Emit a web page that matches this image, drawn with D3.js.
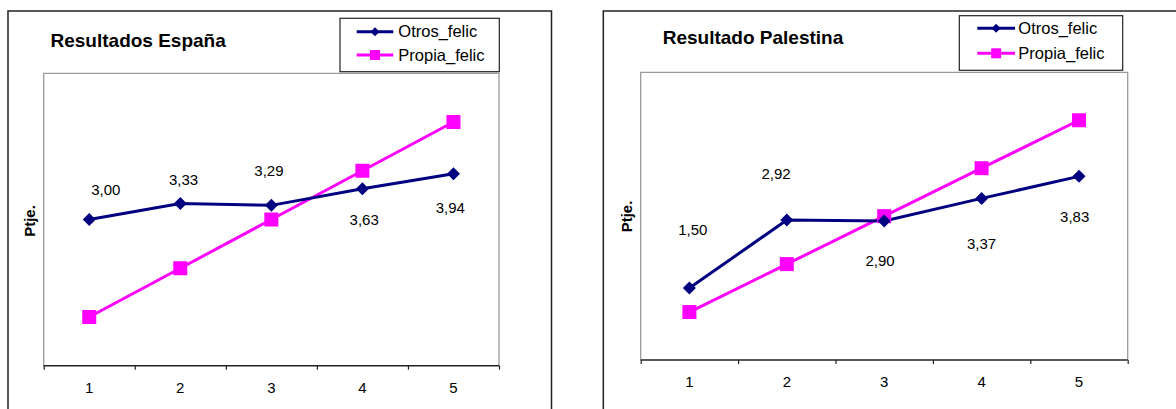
<!DOCTYPE html>
<html>
<head>
<meta charset="utf-8">
<script src="https://cdn.jsdelivr.net/npm/d3@7"></script>
<style>
  html, body { margin: 0; padding: 0; background: #fff; }
  svg { display: block; }
  text { font-family: "Liberation Sans", Arial, sans-serif; }
</style>
</head>
<body>
<svg id="chart" width="1176" height="409"></svg>
<script>
// ---- Data ----
const categories = ["1", "2", "3", "4", "5"];
const seriesNames = ["Otros_felic", "Propia_felic"];
const espanaOtros = [3.00, 3.33, 3.29, 3.63, 3.94];
const espanaPropia = [1, 2, 3, 4, 5];
const palestinaOtros = [1.50, 2.92, 2.90, 3.37, 3.83];
const palestinaPropia = [1, 2, 3, 4, 5];
const yDomain = [0, 6];
const titles = ["Resultados España", "Resultado Palestina"];
const yLabel = "Ptje.";

// ---- Layout / styles ----
const colors = { otros: "#000080", propia: "#FF00FF" };
const svg = d3.select("#chart");
svg.append("rect").attr("width", 1176).attr("height", 409).attr("fill", "#fff");

const fmt = v => d3.format(".2f")(v).replace(".", ",");

function drawChart(cfg) {
  const g = svg.append("g");
  // outer chart border (no bottom; extends beyond image)
  g.append("path")
    .attr("d", `M${cfg.outer.x0},420 L${cfg.outer.x0},${cfg.outer.y0} L${cfg.outer.x1},${cfg.outer.y0} L${cfg.outer.x1},420`)
    .attr("fill", "none").attr("stroke", "#222").attr("stroke-width", 1.5);

  const p = cfg.plot;
  const x = d3.scaleBand().domain(categories).range([p.x0, p.x1]).padding(0);
  const xb = d3.scaleLinear().domain([0, categories.length]).range([p.x0, p.x1]);
  const y = d3.scaleLinear().domain(yDomain).range([p.y1, p.y0]);
  const cx = c => x(c) + x.bandwidth() / 2;

  // plot area border (grey) top/left/right
  g.append("path")
    .attr("d", `M${p.x0},${p.y1} L${p.x0},${p.y0} L${p.x1},${p.y0} L${p.x1},${p.y1}`)
    .attr("fill", "none").attr("stroke", "#9a9a9a").attr("stroke-width", 1.3);

  // axis ticks at category boundaries
  const axT = g.append("g").attr("transform", `translate(0,${p.y1})`)
    .call(d3.axisBottom(xb).tickValues(d3.range(0, categories.length + 1)).tickSize(4).tickFormat(""));
  axT.select(".domain").attr("stroke", "#222").attr("stroke-width", 1.5).attr("d", `M${p.x0},0H${p.x1}`);
  axT.selectAll(".tick line").attr("stroke", "#222").attr("stroke-width", 1.2);
  // category labels
  const axL = g.append("g").attr("transform", `translate(0,${p.y1})`)
    .call(d3.axisBottom(x).tickSize(0).tickPadding(0));
  axL.select(".domain").remove();
  axL.selectAll(".tick text")
    .attr("y", cfg.tickLabelY - p.y1).attr("dy", "0.35em")
    .attr("font-size", 15).attr("fill", "#000")
    .attr("font-family", '"Liberation Sans", Arial, sans-serif');

  // y axis label
  g.append("text")
    .attr("transform", `translate(${cfg.yLabelPos[0]},${cfg.yLabelPos[1]}) rotate(-90)`)
    .attr("text-anchor", "middle").attr("dy", "0.35em")
    .attr("font-size", 15).attr("font-weight", "bold").text(yLabel);

  // title
  g.append("text").attr("x", cfg.titlePos[0]).attr("y", cfg.titlePos[1])
    .attr("font-size", 19).attr("font-weight", "bold").text(cfg.title);

  const line = d3.line().x((d, i) => cx(categories[i])).y(d => y(d));

  // Propia (magenta squares)
  g.append("path").datum(cfg.propia).attr("d", line)
    .attr("fill", "none").attr("stroke", colors.propia).attr("stroke-width", 3);
  // Otros (navy diamonds)
  g.append("path").datum(cfg.otros).attr("d", line)
    .attr("fill", "none").attr("stroke", colors.otros).attr("stroke-width", 3);

  const sq = 14;
  g.selectAll(".sq").data(cfg.propia).join("rect")
    .attr("x", (d, i) => cx(categories[i]) - sq / 2)
    .attr("y", d => y(d) - sq / 2)
    .attr("width", sq).attr("height", sq).attr("fill", colors.propia);

  const dm = 6.5;
  g.selectAll(".dm").data(cfg.otros).join("path")
    .attr("d", (d, i) => {
      const px = cx(categories[i]), py = y(d);
      return `M${px},${py - dm} L${px + dm},${py} L${px},${py + dm} L${px - dm},${py} Z`;
    })
    .attr("fill", colors.otros);

  // data labels for Otros
  g.selectAll(".lbl").data(cfg.otros).join("text")
    .attr("x", (d, i) => cx(categories[i]) + cfg.labelOffsets[i][0])
    .attr("y", (d, i) => y(d) + cfg.labelOffsets[i][1])
    .attr("text-anchor", "middle").attr("dy", "0.35em")
    .attr("font-size", 15).attr("fill", "#000")
    .text(d => fmt(d));

  // legend
  const L = cfg.legend;
  g.append("rect").attr("x", L.x0).attr("y", L.y0)
    .attr("width", L.x1 - L.x0).attr("height", L.y1 - L.y0)
    .attr("fill", "#fff").attr("stroke", "#222").attr("stroke-width", 1.2);
  const items = [
    { name: seriesNames[0], color: colors.otros, shape: "diamond", y: L.rowY[0] },
    { name: seriesNames[1], color: colors.propia, shape: "square", y: L.rowY[1] }
  ];
  items.forEach(it => {
    g.append("line").attr("x1", L.lineX[0]).attr("x2", L.lineX[1])
      .attr("y1", it.y).attr("y2", it.y)
      .attr("stroke", it.color).attr("stroke-width", 3);
    const mx = (L.lineX[0] + L.lineX[1]) / 2;
    if (it.shape === "diamond") {
      const r = 4.5;
      g.append("path").attr("d", `M${mx},${it.y - r} L${mx + r},${it.y} L${mx},${it.y + r} L${mx - r},${it.y} Z`)
        .attr("fill", it.color);
    } else {
      const s = 10;
      g.append("rect").attr("x", mx - s / 2).attr("y", it.y - s / 2)
        .attr("width", s).attr("height", s).attr("fill", it.color);
    }
    g.append("text").attr("x", L.textX).attr("y", it.y).attr("dy", "0.35em")
      .attr("font-size", 16.5).attr("fill", "#000").text(it.name);
  });
}

drawChart({
  title: titles[0],
  otros: espanaOtros, propia: espanaPropia,
  outer: { x0: 8, y0: 11, x1: 551.5 },
  plot: { x0: 43.7, x1: 499, y0: 73.3, y1: 365.7 },
  tickLabelY: 388,
  yLabelPos: [29.5, 221],
  titlePos: [50.5, 46.7],
  labelOffsets: [[16.5, -29.5], [3.3, -23.4], [-2.4, -34.4], [1.8, 31.2], [-3.2, 33.6]],
  legend: { x0: 340, x1: 499.3, y0: 18.3, y1: 71.7, rowY: [31.7, 55], lineX: [356.7, 393.3], textX: 398.3 }
});

drawChart({
  title: titles[1],
  otros: palestinaOtros, propia: palestinaPropia,
  outer: { x0: 603.3, y0: 11, x1: 1185 },
  plot: { x0: 640.7, x1: 1127.7, y0: 72.3, y1: 360 },
  tickLabelY: 381.7,
  yLabelPos: [626.5, 216.5],
  titlePos: [662.7, 44],
  labelOffsets: [[3.4, -58], [-10.7, -46.7], [-4.2, 39.7], [0, 45], [-4.3, 40.4]],
  legend: { x0: 959.3, x1: 1122.7, y0: 15.7, y1: 70.3, rowY: [28.3, 53.3], lineX: [977.3, 1015], textX: 1018.3 }
});
</script>
</body>
</html>
